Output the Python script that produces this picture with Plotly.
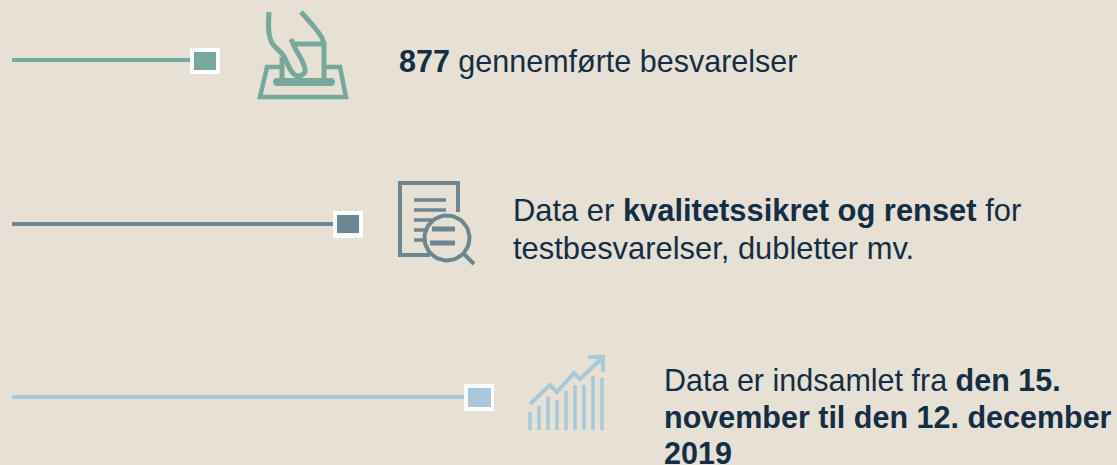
import numpy as np
import plotly.graph_objects as go

BG = "#E7E0D5"
TEAL = "#76A99B"
SLATE = "#6C8791"
BLUE = "#A9C8D9"
TEXT = "#132E45"

# connector rows: colour, line end, y, white box, inner box
rows = [
    (TEAL, 190, 60, (190, 220, 48, 74), (194, 216, 52, 70)),
    (SLATE, 333, 224, (333, 363, 211, 238), (337, 359, 215, 233)),
    (BLUE, 464, 397, (464, 494, 384, 411), (468, 491, 388, 407)),
]

# text lines: x, y, size, content
text_lines = [
    (399, 61, 30.5, "<b>877</b> gennemførte besvarelser"),
    (513, 210, 30.9, "Data er <b>kvalitetssikret og renset</b> for"),
    (513, 248, 30.9, "testbesvarelser, dubletter mv."),
    (664, 380, 30.5, "Data er indsamlet fra <b>den 15.</b>"),
    (664, 417, 30.5, "<b>november til den 12. december</b>"),
    (664, 453, 30.5, "<b>2019</b>"),
]

# icon 1 paths
hand_left = [(269, 12), (269, 33), (272, 43), (283, 55), (287, 63), (292, 72), (298, 76), (305, 72), (303, 63), (295, 48), (291, 39)]
hand_right = [(301, 12), (315, 28), (322, 38), (324, 45)]
box_top = [(295, 44), (324, 44), (324, 82)]
box_left = [(282, 57), (282, 82)]
tray = [(280, 67), (267, 67), (260, 97), (346, 97), (340, 67), (325, 67)]
tray_bar = [(277, 82), (331, 82)]

# icon 2 paths
doc = [(458, 212), (458, 183), (400, 183), (400, 255), (430, 255)]
doc_lines = [[(414, 200), (446, 200)], [(414, 210), (446, 210)], [(414, 220), (432, 220)],
             [(414, 230), (426, 230)], [(414, 240), (423, 240)]]
lens_centre = (447, 238)
lens_radius = 22.5
lens_lines = [[(432, 229), (455, 229)], [(430, 243), (455, 243)]]
handle = [(463, 253), (474, 264)]

# icon 3 paths
bar_x = [530, 539, 548, 557, 566, 575, 584, 593, 602]
bar_top = [412, 406, 397, 400, 391, 385, 385, 376, 378]
bar_bottom = 430
trend = [(530, 404), (550, 385), (557, 392), (574, 373), (580, 379), (603, 357)]
arrow_head = [(588, 357), (603, 357), (603, 372)]

fig = go.Figure()


def path(points, color, width=4.0, shape="linear", rounded=False):
    x, y = zip(*points)
    fig.add_trace(go.Scatter(x=x, y=y, mode="lines+markers" if rounded else "lines", hoverinfo="skip",
                             marker=dict(color=color, size=width, line=dict(width=0)),
                             line=dict(color=color, width=width, shape=shape)))


def box(bounds, color):
    x0, x1, y0, y1 = bounds
    fig.add_trace(go.Scatter(x=[x0, x1, x1, x0, x0], y=[y0, y0, y1, y1, y0], mode="lines",
                             fill="toself", fillcolor=color, hoverinfo="skip",
                             line=dict(color=color, width=0)))


for color, end, y, outer, inner in rows:
    path([(12, y), (end, y)], color, 4)
    box(outer, "#FFFFFF")
    box(inner, color)

path(hand_left, TEAL, 5, "spline")
path(hand_right, TEAL, 5, "spline")
path(box_top, TEAL, 5)
path(box_left, TEAL, 5)
path(tray, TEAL, 4.5)
path(tray_bar, TEAL, 8, rounded=True)

path(doc, SLATE, 4)
for line in doc_lines:
    path(line, SLATE, 3.5)
theta = np.deg2rad(np.arange(0, 361, 6))
path(list(zip(lens_centre[0] + lens_radius * np.cos(theta),
              lens_centre[1] + lens_radius * np.sin(theta))), SLATE, 4)
for line in lens_lines:
    path(line, SLATE, 5)
path(handle, SLATE, 4)

for x, top in zip(bar_x, bar_top):
    path([(x, top), (x, bar_bottom)], BLUE, 3.5)
path(trend, BLUE, 4)
path(arrow_head, BLUE, 4)

for x, y, size, content in text_lines:
    fig.add_annotation(x=x, y=y, text=content, showarrow=False, xanchor="left", yanchor="middle",
                       font=dict(family="Liberation Sans, Arial, sans-serif", size=size, color=TEXT),
                       xref="x", yref="y", xshift=-2)

fig.update_layout(
    width=1117, height=465, margin=dict(l=0, r=0, t=0, b=0),
    paper_bgcolor=BG, plot_bgcolor=BG, showlegend=False,
    xaxis=dict(range=[0, 1117], visible=False, fixedrange=True),
    yaxis=dict(range=[465, 0], visible=False, fixedrange=True),
)
fig.write_html("out.html", config=dict(displayModeBar=False),
               post_script="document.body.style.margin='0';document.body.style.overflow='hidden';"
                           "document.body.style.background='" + BG + "';")
